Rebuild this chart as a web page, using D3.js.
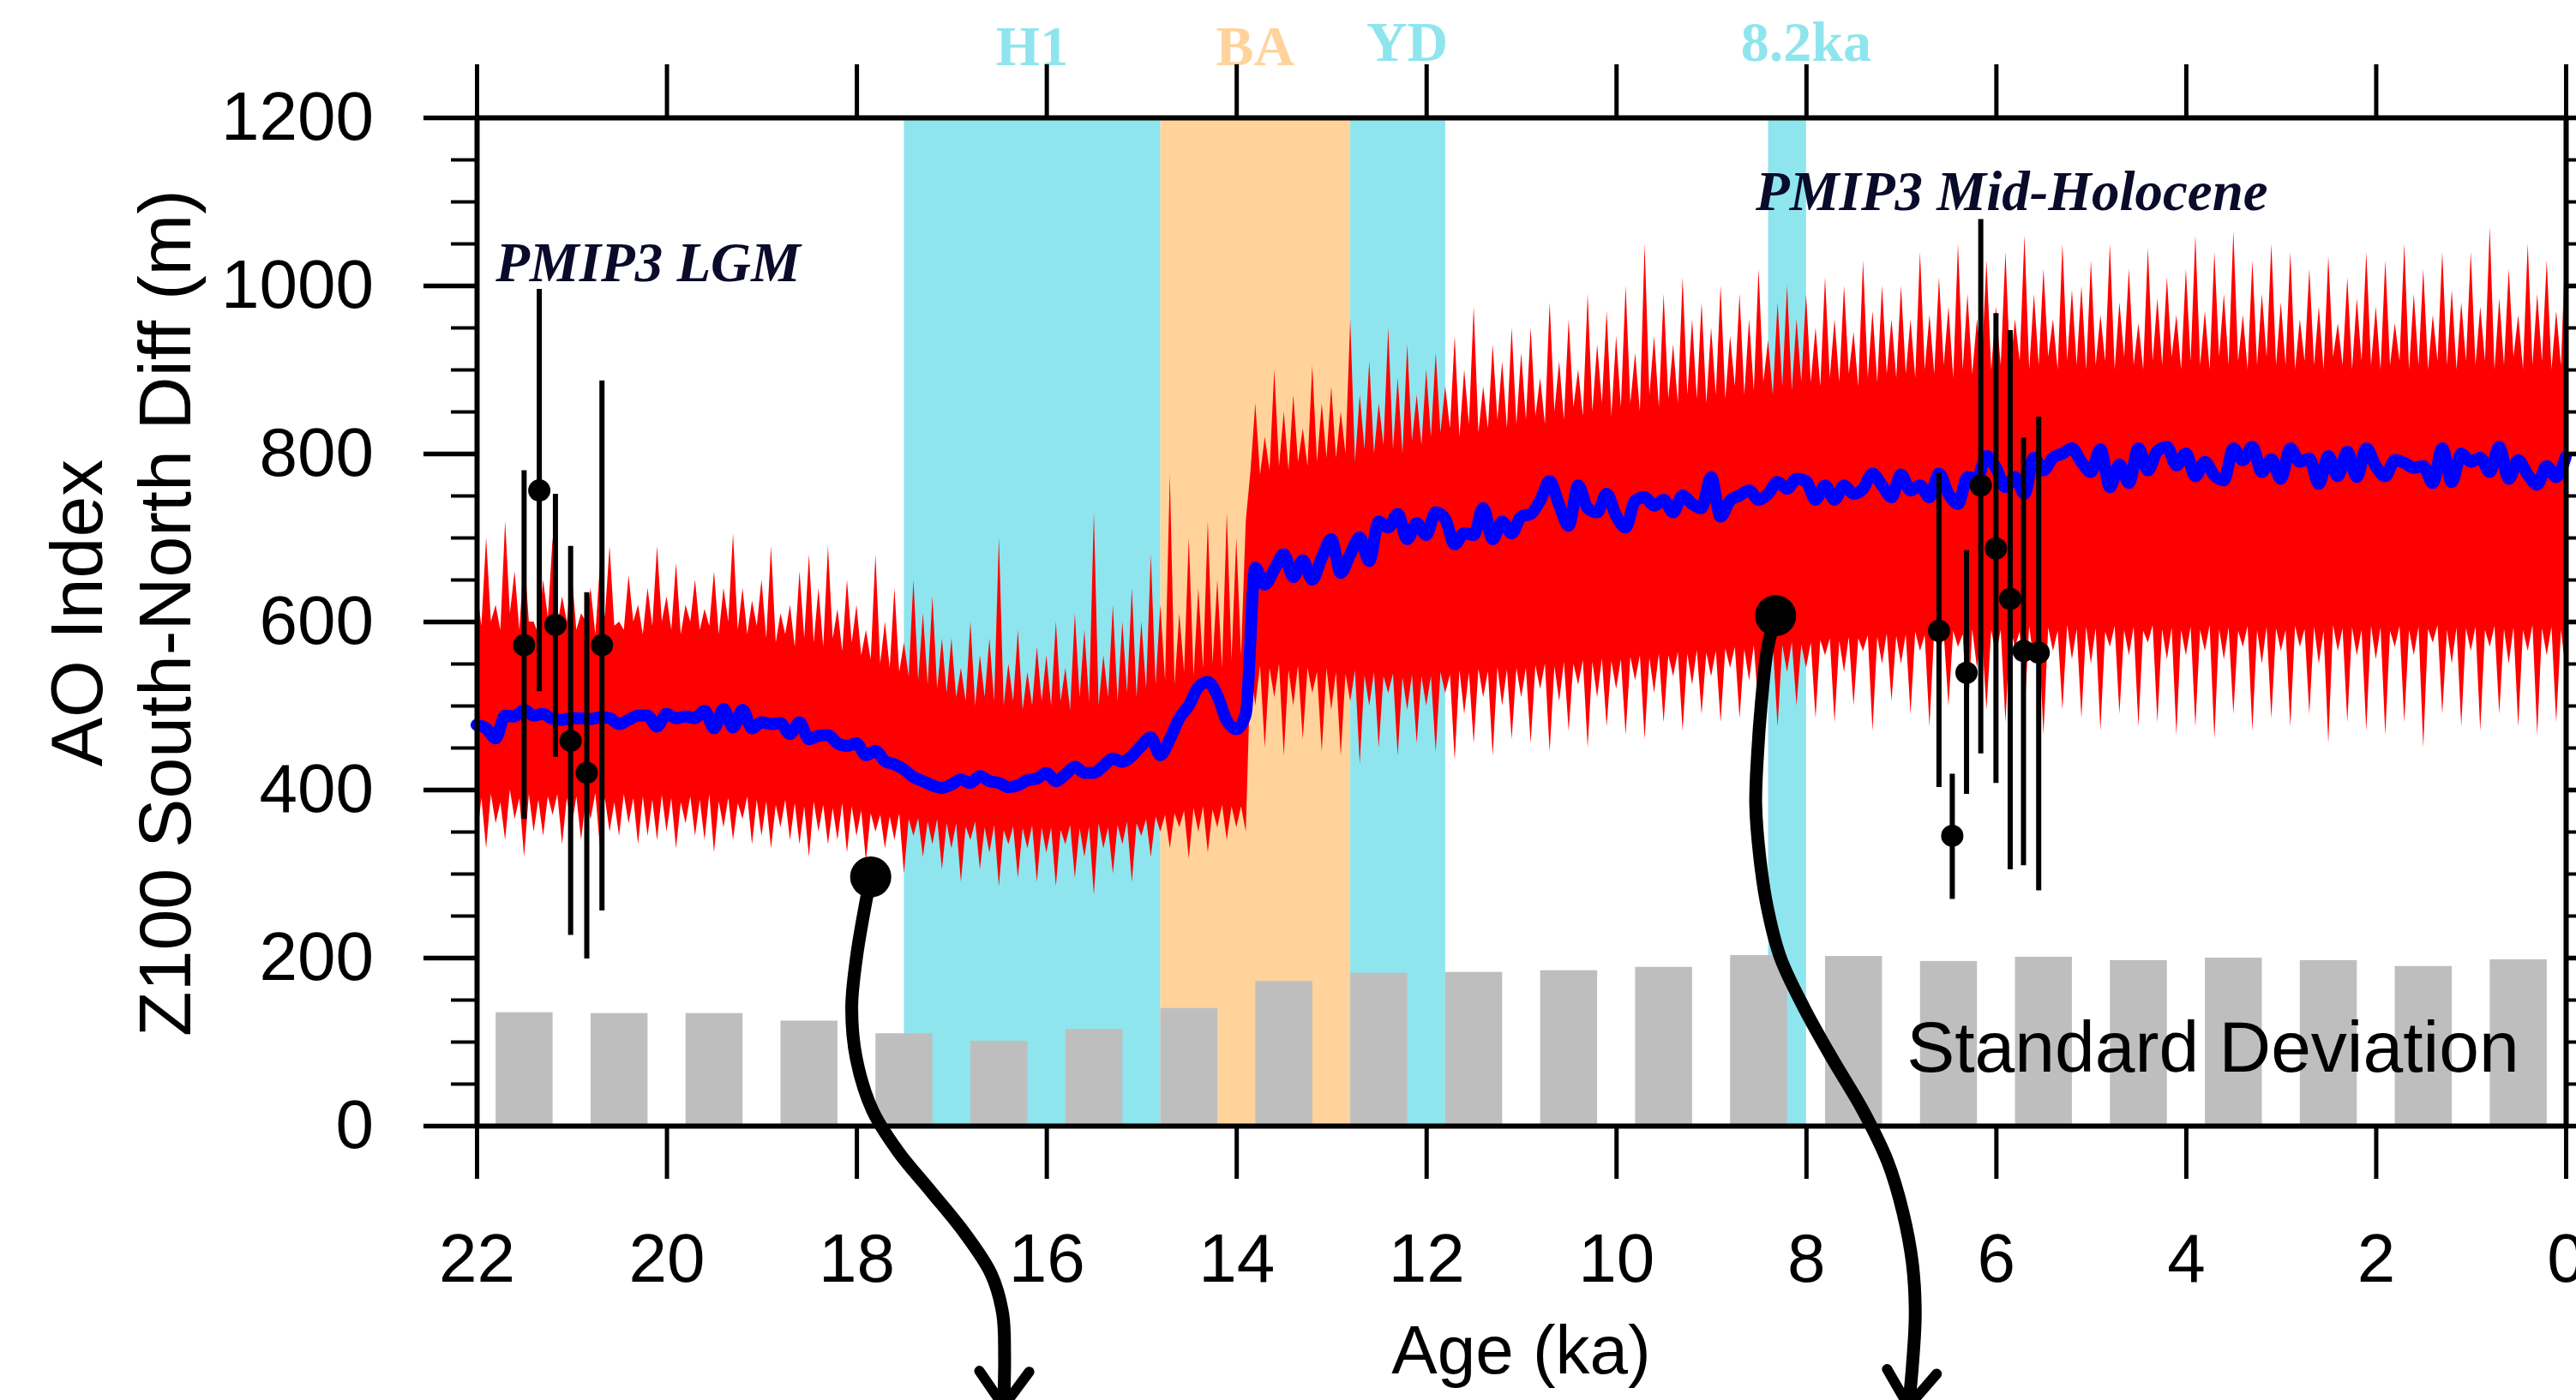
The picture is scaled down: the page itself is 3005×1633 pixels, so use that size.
<!DOCTYPE html>
<html>
<head>
<meta charset="utf-8">
<script src="https://cdn.jsdelivr.net/npm/d3@7"></script>
<style>
  body { margin: 0; background: #fff; }
</style>
</head>
<body>
<div id="mainChart"></div>
<script>
// ---- data (ages in ka BP, values in m) ----
const AGE_START = 22;
const SMOOTH_STEP = 0.1;
const RAW_STEP = 0.05;

// smoothed AO index (blue), one value per 0.1 ka from 22.0 to 0.0
const aoSmooth = [
  477, 473, 461, 488, 487, 495, 488, 490, 484, 483,
  485, 485, 484, 486, 485, 478, 483, 488, 488, 475,
  490, 485, 487, 485, 494, 473, 496, 474, 495, 473,
  480, 478, 479, 466, 480, 460, 464, 465, 455, 452,
  455, 441, 446, 434, 430, 424, 415, 410, 405, 402,
  406, 412, 408, 416, 410, 408, 403, 405, 411, 413,
  420, 410, 418, 427, 420, 420, 428, 437, 433, 440,
  452, 462, 441, 460, 485, 500, 522, 528, 512, 482,
  472, 490, 664, 644, 662, 680, 653, 673, 650, 676,
  698, 658, 680, 700, 672, 719, 712, 728, 698, 717,
  703, 730, 722, 692, 705, 703, 735, 698, 719, 705,
  725, 728, 744, 767, 739, 714, 762, 735, 730, 752,
  726, 712, 744, 748, 738, 745, 730, 750, 740, 735,
  772, 725, 744, 750, 756, 745, 752, 766, 758, 770,
  767, 745, 762, 745, 762, 752, 758, 776, 762, 748,
  775, 756, 762, 748, 776, 752, 740, 772, 770, 797,
  783, 760, 772, 752, 795, 780, 795, 800, 806, 790,
  778, 805, 760, 787, 765, 806, 780, 803, 808, 786,
  800, 773, 790, 774, 768, 806, 792, 808, 778, 793,
  770, 806, 790, 794, 764, 797, 773, 802, 772, 806,
  785, 773, 792, 789, 783, 785, 765, 806, 766, 800,
  790, 795, 778, 808, 770, 792, 775, 763, 785, 772,
  796
];

// raw AO index (red): upper and lower reach per 0.05 ka, one row per ka
const aoRawHigh = [
  640, 595, 700, 600, 620, 590, 720, 610, 660, 590, 680, 600, 600, 585, 650, 605, 700, 595, 630, 600,
  660, 590, 610, 600, 640, 585, 670, 605, 690, 595, 600, 590, 655, 600, 620, 585, 640, 595, 690, 600,
  630, 590, 670, 585, 620, 600, 650, 590, 615, 595, 660, 585, 640, 600, 705, 590, 640, 585, 625, 595,
  650, 580, 690, 575, 610, 585, 620, 570, 660, 580, 680, 575, 640, 570, 690, 580, 615, 565, 650, 575,
  620, 560, 590, 555, 680, 550, 600, 545, 640, 540, 575, 535, 650, 530, 610, 525, 630, 520, 580, 515,
  580, 510, 545, 505, 600, 500, 560, 510, 580, 505, 700, 500, 550, 505, 590, 495, 540, 500, 570, 505,
  560, 500, 600, 505, 545, 495, 610, 510, 590, 505, 730, 500, 560, 510, 620, 505, 600, 515, 640, 510,
  600, 520, 680, 525, 620, 530, 775, 525, 610, 540, 700, 535, 640, 545, 720, 550, 650, 545, 730, 555,
  700, 560, 720, 780, 860, 775, 820, 780, 900, 785, 850, 780, 870, 790, 830, 785, 905, 790, 860, 795,
  880, 795, 850, 800, 960, 790, 870, 805, 910, 800, 860, 810, 950, 805, 890, 800, 930, 815, 870, 810,
  900, 820, 920, 825, 880, 830, 940, 820, 900, 835, 975, 825, 880, 830, 930, 840, 910, 830, 950, 835,
  920, 840, 950, 845, 890, 835, 980, 850, 910, 840, 960, 855, 900, 845, 990, 850, 930, 860, 970, 845,
  940, 855, 1000, 860, 920, 850, 1050, 870, 940, 855, 990, 865, 930, 860, 1010, 870, 960, 865, 980, 860,
  950, 870, 1000, 865, 940, 880, 990, 870, 960, 875, 1020, 885, 935, 870, 980, 880, 1000, 875, 960, 885,
  990, 885, 950, 880, 1010, 890, 960, 885, 1000, 895, 945, 880, 1030, 890, 970, 885, 1000, 895, 960, 890,
  1000, 895, 960, 890, 1040, 900, 965, 895, 1010, 905, 975, 890, 1050, 900, 990, 895, 960, 905, 1030, 900,
  975, 905, 1040, 900, 960, 910, 1060, 900, 990, 905, 1020, 915, 960, 900, 1050, 910, 995, 905, 1000, 900,
  1030, 905, 965, 910, 1050, 900, 980, 915, 1020, 905, 955, 900, 1045, 910, 985, 905, 1010, 915, 965, 900,
  1020, 910, 1060, 905, 970, 900, 1040, 915, 990, 905, 1065, 910, 965, 900, 1030, 905, 990, 915, 1050, 905,
  980, 905, 1040, 900, 960, 910, 1020, 905, 975, 900, 1035, 915, 955, 905, 1010, 900, 985, 910, 1040, 905,
  975, 900, 1030, 905, 955, 910, 1050, 900, 990, 905, 1020, 900, 965, 910, 1040, 905, 995, 900, 980, 910,
  1040, 905, 975, 910, 1070, 900, 985, 905, 1020, 915, 965, 900, 1050, 905, 990, 910, 1030, 900, 970, 905,
  1060
];
const aoRawLow = [
  340, 390, 330, 395, 360, 385, 340, 400, 365, 390, 320, 395, 350, 388, 345, 392, 370, 395, 335, 390,
  355, 392, 340, 388, 365, 396, 330, 390, 350, 385, 345, 395, 360, 390, 335, 392, 345, 388, 340, 394,
  350, 390, 330, 385, 360, 392, 345, 388, 340, 395, 325, 386, 355, 390, 340, 384, 365, 392, 335, 388,
  345, 386, 330, 382, 355, 388, 340, 384, 335, 380, 320, 386, 350, 382, 335, 378, 340, 384, 325, 380,
  345, 375, 315, 372, 350, 370, 330, 368, 340, 372, 300, 365, 345, 366, 320, 362, 335, 365, 305, 360,
  330, 360, 290, 356, 340, 362, 305, 355, 325, 358, 285, 352, 335, 356, 295, 354, 330, 358, 290, 355,
  325, 355, 285, 352, 335, 358, 295, 354, 320, 356, 275, 360, 330, 355, 300, 358, 335, 362, 290, 360,
  345, 365, 320, 368, 350, 370, 330, 372, 355, 375, 318, 378, 350, 380, 325, 376, 355, 382, 340, 380,
  355, 380, 350, 545, 500, 548, 450, 545, 510, 550, 440, 542, 500, 548, 460, 545, 515, 540, 445, 545,
  495, 540, 440, 538, 505, 542, 430, 536, 500, 540, 450, 535, 515, 538, 440, 534, 495, 537, 455, 535,
  500, 535, 445, 540, 515, 537, 435, 542, 490, 539, 455, 544, 510, 541, 440, 546, 500, 543, 460, 545,
  510, 545, 455, 548, 520, 550, 445, 547, 505, 552, 470, 550, 525, 554, 450, 552, 510, 556, 475, 553,
  520, 555, 465, 558, 530, 560, 460, 557, 515, 562, 480, 560, 535, 564, 470, 562, 525, 566, 490, 563,
  535, 565, 480, 568, 545, 570, 485, 567, 530, 572, 495, 570, 550, 574, 475, 572, 540, 576, 500, 573,
  545, 575, 485, 578, 560, 580, 480, 577, 540, 582, 500, 580, 565, 584, 470, 582, 550, 586, 505, 583,
  550, 585, 490, 588, 565, 584, 475, 590, 555, 586, 500, 589, 570, 585, 480, 591, 545, 587, 495, 590,
  560, 590, 480, 594, 570, 588, 490, 595, 550, 590, 465, 593, 565, 589, 495, 596, 555, 591, 485, 594,
  550, 592, 470, 588, 570, 595, 490, 590, 560, 594, 475, 589, 575, 596, 480, 591, 555, 593, 465, 590,
  560, 594, 475, 590, 565, 596, 460, 591, 555, 593, 490, 589, 570, 595, 470, 590, 550, 594, 485, 592,
  565, 590, 475, 595, 570, 591, 490, 594, 550, 589, 455, 596, 565, 592, 480, 593, 560, 590, 470, 595,
  555, 593, 465, 589, 570, 595, 480, 590, 560, 594, 450, 591, 575, 596, 490, 590, 550, 593, 475, 592,
  565, 594, 470, 590, 570, 595, 490, 591, 550, 593, 475, 590, 565, 596, 465, 592, 560, 594, 480, 590,
  540
];

// standard deviation per 1 ka window (grey bars)
const sdAges = [21.5, 20.5, 19.5, 18.5, 17.5, 16.5, 15.5, 14.5, 13.5, 12.5, 11.5,
                10.5, 9.5, 8.5, 7.5, 6.5, 5.5, 4.5, 3.5, 2.5, 1.5, 0.5];
const sdValues = [135, 134, 134, 125, 110, 101, 115, 140, 172, 182, 183,
                  185, 189, 203, 202, 196, 201, 197, 200, 197, 190, 198];

// PMIP3 model values with ranges
const lgmAges = [21.5, 21.34, 21.17, 21.01, 20.84, 20.68];
const lgmMid  = [572, 756, 596, 458, 420, 572];
const lgmHigh = [780, 996, 752, 690, 635, 887];
const lgmLow  = [365, 517, 439, 227, 199, 256];

const mhAges = [6.60, 6.46, 6.31, 6.16, 6.00, 5.85, 5.71, 5.55];
const mhMid  = [589, 345, 539, 762, 687, 627, 565, 563];
const mhHigh = [777, 419, 685, 1079, 967, 947, 819, 844];
const mhLow  = [403, 270, 395, 443, 408, 305, 310, 280];

// climate events (shaded)
const eventNames = ['H1', 'BA', 'YD', '8.2ka'];
const eventStart = [17.5, 14.8, 12.8, 8.4];
const eventEnd   = [14.8, 12.8, 11.8, 8.0];
const eventLabelAge = [16.15, 13.8, 12.2, 8.0];
const eventColors = ['#8EE5EE', '#FFD39B', '#8EE5EE', '#8EE5EE'];

// arrows to the map panels (age, value)
const arrowLGM = [[17.85, 296], [17.91, 261], [18.0, 200], [18.05, 140], [18.0, 79], [17.83, 18],
                  [17.56, -31], [17.21, -79], [16.86, -128], [16.58, -177], [16.46, -224],
                  [16.44, -273], [16.45, -334]];
const arrowMH = [[8.32, 607], [8.41, 565], [8.47, 504], [8.51, 443], [8.53, 383], [8.49, 322],
                 [8.41, 261], [8.27, 200], [8.02, 140], [7.72, 79], [7.40, 18], [7.14, -43],
                 [6.98, -103], [6.88, -164], [6.85, -224], [6.88, -286], [6.92, -334]];

const xMajor = [22, 20, 18, 16, 14, 12, 10, 8, 6, 4, 2, 0];
const yMajor = [0, 200, 400, 600, 800, 1000, 1200];
const yMinor = d3.range(0, 1201, 50).filter(v => v % 200 !== 0);

// ---- layout ----
const CHART_SIZE = { width: 3005, height: 1633 };
const PLOT = { left: 556, right: 2993, top: 137, bottom: 1313 };
const SANS = '"Liberation Sans", Helvetica, Arial, sans-serif';
const SERIF = '"Liberation Serif", "Times New Roman", serif';

const x = d3.scaleLinear().domain([22, 0]).range([PLOT.left, PLOT.right]);
const y = d3.scaleLinear().domain([0, 1200]).range([PLOT.bottom, PLOT.top]);

const svg = d3.select('#mainChart')
  .append('svg')
  .attr('width', CHART_SIZE.width)
  .attr('height', CHART_SIZE.height)
  .style('display', 'block');

svg.append('rect').attr('width', CHART_SIZE.width).attr('height', CHART_SIZE.height).attr('fill', '#fff');

// shaded event bands
svg.append('g').selectAll('rect')
  .data(eventNames)
  .join('rect')
  .attr('x', (d, i) => x(eventStart[i]))
  .attr('width', (d, i) => x(eventEnd[i]) - x(eventStart[i]))
  .attr('y', y(1200))
  .attr('height', y(0) - y(1200))
  .attr('fill', (d, i) => eventColors[i]);

svg.append('g').selectAll('text')
  .data(eventNames)
  .join('text')
  .attr('x', (d, i) => x(eventLabelAge[i]))
  .attr('y', (d, i) => i < 2 ? 76 : 71)
  .attr('text-anchor', 'middle')
  .attr('font-family', SERIF)
  .attr('font-weight', 'bold')
  .attr('font-size', 66)
  .attr('fill', (d, i) => eventColors[i])
  .text(d => d);

// standard deviation bars
const barWidth = x(0) - x(0.6);
svg.append('g').selectAll('rect')
  .data(sdValues)
  .join('rect')
  .attr('x', (d, i) => x(sdAges[i]) - barWidth / 2)
  .attr('width', barWidth)
  .attr('y', d => y(d))
  .attr('height', d => y(0) - y(d))
  .attr('fill', '#BEBEBE');

svg.append('text')
  .attr('x', x(6.94))
  .attr('y', y(64))
  .attr('font-family', SANS)
  .attr('font-size', 84)
  .attr('fill', '#000')
  .text('Standard Deviation');

// raw series (red) as its high/low reach
const redArea = d3.area()
  .x((d, i) => x(AGE_START - i * RAW_STEP))
  .y0((d, i) => y(aoRawLow[i]))
  .y1(d => y(d))
  .curve(d3.curveLinear);
svg.append('path')
  .attr('d', redArea(aoRawHigh))
  .attr('fill', '#FF0000');

// smoothed series (blue)
const blueLine = d3.line()
  .x((d, i) => x(AGE_START - i * SMOOTH_STEP))
  .y(d => y(d))
  .curve(d3.curveMonotoneX);
svg.append('path')
  .attr('d', blueLine(aoSmooth))
  .attr('fill', 'none')
  .attr('stroke', '#0000FF')
  .attr('stroke-width', 14)
  .attr('stroke-linejoin', 'round')
  .attr('stroke-linecap', 'round');

// PMIP3 points with ranges
const drawModels = (ages, mid, hi, lo) => {
  const g = svg.append('g');
  g.selectAll('line')
    .data(ages)
    .join('line')
    .attr('x1', d => x(d)).attr('x2', d => x(d))
    .attr('y1', (d, i) => y(hi[i])).attr('y2', (d, i) => y(lo[i]))
    .attr('stroke', '#000').attr('stroke-width', 6);
  g.selectAll('circle')
    .data(ages)
    .join('circle')
    .attr('cx', d => x(d))
    .attr('cy', (d, i) => y(mid[i]))
    .attr('r', 13)
    .attr('fill', '#000');
};
drawModels(lgmAges, lgmMid, lgmHigh, lgmLow);
drawModels(mhAges, mhMid, mhHigh, mhLow);

svg.append('text')
  .attr('x', x(21.8)).attr('y', 328)
  .attr('font-family', SERIF).attr('font-weight', 'bold').attr('font-style', 'italic')
  .attr('font-size', 65).attr('fill', '#0a0a2a')
  .text('PMIP3 LGM');
svg.append('text')
  .attr('x', x(8.53)).attr('y', 245)
  .attr('font-family', SERIF).attr('font-weight', 'bold').attr('font-style', 'italic')
  .attr('font-size', 65).attr('fill', '#0a0a2a')
  .text('PMIP3 Mid-Holocene');

// arrows
const arrowLine = d3.line().x(d => x(d[0])).y(d => y(d[1])).curve(d3.curveCatmullRom);
const drawArrow = pts => {
  const g = svg.append('g');
  g.append('path')
    .attr('d', arrowLine(pts))
    .attr('fill', 'none').attr('stroke', '#000')
    .attr('stroke-width', 15).attr('stroke-linecap', 'round');
  g.append('circle')
    .attr('cx', x(pts[0][0])).attr('cy', y(pts[0][1]))
    .attr('r', 24).attr('fill', '#000');
  const p = pts[pts.length - 1], q = pts[pts.length - 2];
  const px = x(p[0]), py = y(p[1]);
  const ang = Math.atan2(py - y(q[1]), px - x(q[0]));
  const len = 50, spread = 0.62;
  const arm = s => [px - len * Math.cos(ang + s * spread), py - len * Math.sin(ang + s * spread)];
  g.append('path')
    .attr('d', d3.line()([arm(1), [px, py], arm(-1)]))
    .attr('fill', 'none').attr('stroke', '#000')
    .attr('stroke-width', 12).attr('stroke-linecap', 'round').attr('stroke-linejoin', 'round');
};
drawArrow(arrowLGM);
drawArrow(arrowMH);

// ---- axes ----
const styleAxis = (g, tickWidth, keepDomain) => {
  g.attr('font-family', SANS).attr('font-size', 80);
  if (keepDomain) g.select('.domain').attr('stroke', '#000').attr('stroke-width', 6);
  else g.select('.domain').remove();
  g.selectAll('.tick line').attr('stroke', '#000').attr('stroke-width', tickWidth);
  g.selectAll('.tick text').attr('fill', '#000');
};

svg.append('g')
  .attr('transform', `translate(${PLOT.left},0)`)
  .call(d3.axisLeft(y).tickValues(yMinor).tickSize(30).tickSizeOuter(0).tickFormat(''))
  .call(g => styleAxis(g, 4, false));
svg.append('g')
  .attr('transform', `translate(${PLOT.right},0)`)
  .call(d3.axisRight(y).tickValues(yMinor).tickSize(30).tickSizeOuter(0).tickFormat(''))
  .call(g => styleAxis(g, 4, false));

svg.append('g')
  .attr('transform', `translate(${PLOT.left},0)`)
  .call(d3.axisLeft(y).tickValues(yMajor).tickSize(62).tickSizeOuter(0).tickPadding(58).tickFormat(d3.format('d')))
  .call(g => styleAxis(g, 5.5, true));
svg.append('g')
  .attr('transform', `translate(${PLOT.right},0)`)
  .call(d3.axisRight(y).tickValues(yMajor).tickSize(62).tickSizeOuter(0).tickFormat(''))
  .call(g => styleAxis(g, 5.5, true));

svg.append('g')
  .attr('transform', `translate(0,${PLOT.bottom})`)
  .call(d3.axisBottom(x).tickValues(xMajor).tickSize(62).tickSizeOuter(0).tickPadding(63).tickFormat(d => d))
  .call(g => styleAxis(g, 5, true));
svg.append('g')
  .attr('transform', `translate(0,${PLOT.top})`)
  .call(d3.axisTop(x).tickValues(xMajor).tickSize(62).tickSizeOuter(0).tickFormat(''))
  .call(g => styleAxis(g, 5, true));

// axis titles
svg.append('text')
  .attr('x', (PLOT.left + PLOT.right) / 2).attr('y', 1602)
  .attr('text-anchor', 'middle')
  .attr('font-family', SANS).attr('font-size', 80).attr('fill', '#000')
  .text('Age (ka)');
svg.append('text')
  .attr('transform', 'translate(119,715) rotate(-90)')
  .attr('text-anchor', 'middle')
  .attr('font-family', SANS).attr('font-size', 86).attr('fill', '#000')
  .text('AO Index');
svg.append('text')
  .attr('transform', 'translate(222,715) rotate(-90)')
  .attr('text-anchor', 'middle')
  .attr('font-family', SANS).attr('font-size', 86).attr('fill', '#000')
  .text('Z100 South-North Diff (m)');
</script>
</body>
</html>
